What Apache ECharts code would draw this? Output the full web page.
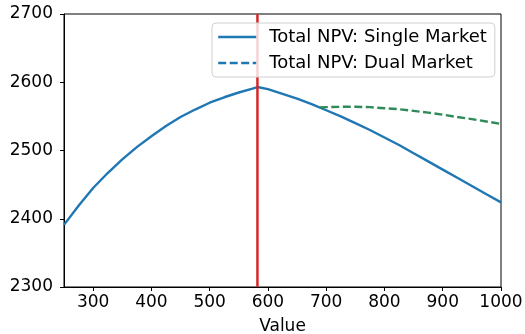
<!DOCTYPE html>
<html><head><meta charset="utf-8">
<script src="https://cdn.jsdelivr.net/npm/echarts@6/dist/echarts.min.js"></script>
<style>html,body{margin:0;padding:0;background:#fff}#c{width:525px;height:334px}</style>
</head><body><div id="c"></div>
<script>
const singleX = [250,275,300,325,350,375,400,425,450,475,500,525,550,575,582,600,625,650,675,700,725,750,775,800,825,850,875,900,925,950,975,1000];
const singleY = [2391,2419,2445,2467,2487,2505,2521,2536,2549,2560,2570,2578,2585,2591,2593,2590,2583,2576,2568,2559,2550,2540,2530,2519,2508,2496,2484,2472,2460,2448,2436,2424];
const dualX = [689,700,725,750,775,800,825,850,875,900,925,950,975,1000];
const dualY = [2563,2563.5,2564,2564,2563.5,2562,2560.5,2558,2555.5,2552.5,2549,2546,2542.5,2539];
const optimumX = 582;
const xTickLabels = [300,400,500,600,700,800,900,1000];
const yTickLabels = [2300,2400,2500,2600,2700];
const seriesNames = ['Total NPV: Single Market','Total NPV: Dual Market'];

const FONT = 'DejaVu Sans';
const yMin = yTickLabels[0], yMax = yTickLabels[yTickLabels.length-1];
const chart = echarts.init(document.getElementById('c'), null, {renderer:'canvas'});
chart.setOption({
  animation:false,
  backgroundColor:'#fff',
  grid:{left:64, top:14, right:24, bottom:47, outerBoundsMode:'none', containLabel:false,
        show:true, borderColor:'#000', borderWidth:1, backgroundColor:'transparent'},
  xAxis:{
    type:'value', min:250, max:1000,
    name:'Value', nameLocation:'middle', nameGap:31,
    nameTextStyle:{fontFamily:FONT, fontSize:17, color:'#000'},
    axisLine:{show:true, lineStyle:{color:'#000', width:1}},
    axisTick:{show:true, length:4, lineStyle:{color:'#000'}, customValues:xTickLabels},
    axisLabel:{fontFamily:FONT, fontSize:17, color:'#000', margin:7, customValues:xTickLabels, formatter:v=>String(v)},
    splitLine:{show:false}
  },
  yAxis:{
    type:'value', min:yMin, max:yMax, interval:100,
    axisLine:{show:true, lineStyle:{color:'#000', width:1}},
    axisTick:{show:true, length:4, lineStyle:{color:'#000'}, customValues:yTickLabels},
    axisLabel:{fontFamily:FONT, fontSize:17, color:'#000', margin:11, customValues:yTickLabels, formatter:v=>String(v)},
    splitLine:{show:false}
  },
  legend:{
    left:212, top:23, orient:'vertical', zlevel:1, z:10,
    backgroundColor:'rgba(255,255,255,0.8)', borderColor:'#d0d0d0', borderWidth:1, borderRadius:4,
    padding:[5,8,5,5], itemGap:8, itemWidth:38, itemHeight:14,
    itemStyle:{opacity:0},
    lineStyle:{width:2.4},
    textStyle:{fontFamily:FONT, fontSize:18, color:'#000', padding:[0,0,0,8]},
    data:[
      {name:seriesNames[0]},
      {name:seriesNames[1], lineStyle:{color:'#1f77b4'}}
    ]
  },
  series:[
    {name:seriesNames[0], type:'line', symbol:'none', z:2,
     lineStyle:{color:'#1f77b4', width:2.4}, itemStyle:{color:'#1f77b4'},
     data:singleX.map((x,i)=>[x,singleY[i]])},
    {name:seriesNames[1], type:'line', symbol:'none', z:2,
     lineStyle:{color:'#2e8b57', width:2.4, type:[8,3.5]}, itemStyle:{color:'#2e8b57'},
     data:dualX.map((x,i)=>[x,dualY[i]])},
    {name:'optimum', type:'line', symbol:'none', z:3, silent:true,
     lineStyle:{color:'#d62728', width:2.5}, itemStyle:{color:'#d62728'},
     data:[[optimumX,yMin],[optimumX,yMax]]}
  ]
});
</script></body></html>
